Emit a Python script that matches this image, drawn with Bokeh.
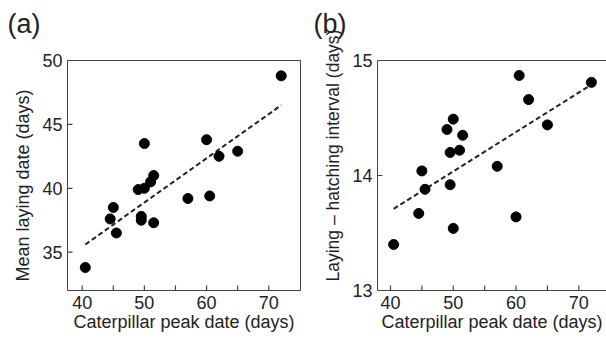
from bokeh.plotting import figure
from bokeh.layouts import row
from bokeh.models import Range1d, FixedTicker, LinearAxis, Title
from bokeh.embed import file_html
from bokeh.resources import INLINE

# ---- data ----
a_x = [40.5, 44.5, 45, 45.5, 49, 50, 49.5, 49.5, 50, 51, 51.5, 51.5, 57, 60, 60.5, 62, 65, 72]
a_y = [33.8, 37.6, 38.5, 36.5, 39.9, 40.0, 37.8, 37.5, 43.5, 40.5, 41.0, 37.3, 39.2, 43.8, 39.4, 42.5, 42.9, 48.8]
a_fit_x = [40.5, 72]
a_fit_y = [35.6, 46.5]

b_x = [40.5, 44.5, 45, 45.5, 49, 49.5, 49.5, 50, 50, 51, 51.5, 57, 60, 60.5, 62, 65, 72]
b_y = [13.40, 13.67, 14.04, 13.88, 14.40, 14.20, 13.92, 14.49, 13.54, 14.22, 14.35, 14.08, 13.64, 14.87, 14.66, 14.44, 14.81]
b_fit_x = [40.5, 72]
b_fit_y = [13.71, 14.79]

x_ticks = [40, 50, 60, 70]
x_minor = [45, 55, 65]
a_yticks = [35, 40, 45, 50]
b_yticks = [13, 14, 15]

x_title = "Caterpillar peak date (days)"
a_ytitle = "Mean laying date (days)"
b_ytitle = "Laying – hatching interval (days)"

FONT = "Liberation Sans"
AX = "#444444"
TXT = "#222222"
TICK_PX = 5


def style(p, yticks, frame_w, frame_h):
    p.xgrid.visible = False
    p.ygrid.visible = False
    p.background_fill_color = "white"
    p.border_fill_color = "white"
    for ax in [p.xaxis[0], p.yaxis[0]]:
        ax.axis_line_color = AX
        ax.axis_line_width = 1
        ax.major_tick_line_color = None
        ax.minor_tick_line_color = None
        ax.major_tick_out = 0
        ax.major_tick_in = 0
        ax.minor_tick_out = 0
        ax.minor_tick_in = 0
        ax.major_label_text_font = FONT
        ax.major_label_text_font_size = "18px"
        ax.major_label_text_color = TXT
        ax.major_label_standoff = 5
    p.xaxis[0].ticker = FixedTicker(ticks=x_ticks, minor_ticks=x_minor)
    p.yaxis[0].ticker = FixedTicker(ticks=yticks)
    p.xaxis[0].axis_label = x_title
    p.xaxis[0].axis_label_text_font = FONT
    p.xaxis[0].axis_label_text_font_size = "18px"
    p.xaxis[0].axis_label_text_font_style = "normal"
    p.xaxis[0].axis_label_text_color = TXT
    p.xaxis[0].axis_label_standoff = 0
    # inward tick marks (drawn inside the frame), length converted from pixels
    xr, yr = p.x_range, p.y_range
    dy = (yr.end - yr.start) * TICK_PX / frame_h
    dx = (xr.end - xr.start) * TICK_PX / frame_w
    xs = x_ticks + x_minor
    p.segment(x0=xs, y0=[yr.start] * len(xs), x1=xs, y1=[yr.start + dy] * len(xs),
              line_color=AX, line_width=1.2)
    p.segment(x0=[xr.start] * len(yticks), y0=yticks, x1=[xr.start + dx] * len(yticks), y1=yticks,
              line_color=AX, line_width=1.2)
    # top frame line
    top = LinearAxis(ticker=FixedTicker(ticks=[]), axis_line_color=AX, axis_line_width=1,
                     major_tick_line_color=None, minor_tick_line_color=None,
                     major_tick_out=0, major_tick_in=0, minor_tick_out=0, minor_tick_in=0)
    p.add_layout(top, "above")
    # blank spacer between frame and panel tag
    p.add_layout(Title(text=" ", standoff=0, text_font=FONT, text_font_size="18px",
                       text_color="white"), "above")


def ytitle(text, offset, standoff, size):
    return Title(text=text, align="left", offset=offset, standoff=standoff, text_font=FONT,
                 text_font_size=size, text_font_style="normal", text_color=TXT)


def ptitle(text, offset):
    return Title(text=text, align="left", offset=offset, standoff=0, text_font=FONT,
                 text_font_size="27px", text_font_style="normal", text_color=TXT)


# ---- panel (a) ----
pa = figure(width=305, height=342, x_range=Range1d(37.64, 75.10), y_range=Range1d(32.0, 50.0),
            output_backend="svg", toolbar_location=None,
            min_border_left=67, min_border_right=5, min_border_top=60, min_border_bottom=52)
style(pa, a_yticks, 233, 230)
pa.outline_line_color = AX
pa.outline_line_width = 1
pa.line(a_fit_x, a_fit_y, line_dash="5 3", line_width=2, line_color=TXT)
pa.scatter(a_x, a_y, size=10, color="black")
pa.add_layout(ytitle(a_ytitle, 9, 14, "18px"), "left")
pa.add_layout(ptitle("(a)", -60), "above")

# ---- panel (b) ----
pb = figure(width=301, height=342, x_range=Range1d(37.93, 74.41), y_range=Range1d(13.0, 15.0),
            output_backend="svg", toolbar_location=None,
            min_border_left=72, min_border_right=0, min_border_top=60, min_border_bottom=52)
style(pb, b_yticks, 229, 230)
pb.outline_line_color = None
pb.line(b_fit_x, b_fit_y, line_dash="5 3", line_width=2, line_color=TXT)
pb.scatter(b_x, b_y, size=10, color="black")
pb.add_layout(ytitle(b_ytitle, 9, 14, "17.5px"), "left")
pb.add_layout(ptitle("(b)", -64), "above")

layout = row(pa, pb)
open("out.html", "w").write(file_html(layout, INLINE))
